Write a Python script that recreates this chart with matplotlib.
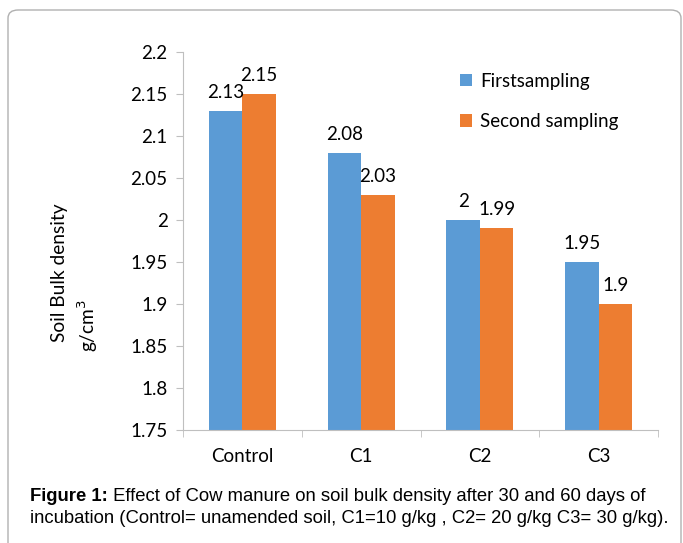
import numpy as np
import matplotlib.pyplot as plt
from matplotlib.patches import FancyBboxPatch

# data
categories = ['Control', 'C1', 'C2', 'C3']
first_sampling = [2.13, 2.08, 2.00, 1.95]
second_sampling = [2.15, 2.03, 1.99, 1.90]
first_labels = ['2.13', '2.08', '2', '1.95']
second_labels = ['2.15', '2.03', '1.99', '1.9']
y_ticks = [1.75, 1.8, 1.85, 1.9, 1.95, 2.0, 2.05, 2.1, 2.15, 2.2]
y_tick_labels = ['1.75', '1.8', '1.85', '1.9', '1.95', '2', '2.05', '2.1', '2.15', '2.2']

blue = '#5B9BD5'
orange = '#ED7D31'
axis_gray = '#BFBFBF'
font = 'Lato'
fs = 13.5

fig = plt.figure(figsize=(6.83, 5.43), dpi=100)

# rounded frame around the figure (bottom runs off the page)
frame = FancyBboxPatch((8 / 683, -0.2), 673 / 683, 1.2 - 10 / 543,
                       boxstyle='round,pad=0,rounding_size=0.015',
                       transform=fig.transFigure, fill=False,
                       edgecolor='#B0B0B0', linewidth=1.0)
fig.patches.append(frame)

ax = fig.add_axes([183 / 683, 1 - 430 / 543, 475 / 683, 378 / 543])

x = np.arange(len(categories))
w = 0.283
ax.bar(x - w / 2, [v - 1.75 for v in first_sampling], w, bottom=1.75,
       color=blue, label='Firstsampling')
ax.bar(x + w / 2, [v - 1.75 for v in second_sampling], w, bottom=1.75,
       color=orange, label='Second sampling')

for i in range(len(categories)):
    ax.text(x[i] - w / 2, first_sampling[i] + 0.012, first_labels[i],
            ha='center', va='bottom', fontsize=fs, family=font)
    ax.text(x[i] + w / 2, second_sampling[i] + 0.012, second_labels[i],
            ha='center', va='bottom', fontsize=fs, family=font)

ax.set_xlim(-0.5, len(categories) - 0.5)
ax.set_ylim(1.75, 2.2)
ax.set_yticks(y_ticks)
ax.set_yticklabels(y_tick_labels, family=font, fontsize=fs)
ax.set_xticks(x)
ax.set_xticklabels(categories, family=font, fontsize=fs)
ax.set_xticks(np.arange(len(categories) + 1) - 0.5, minor=True)
ax.tick_params(axis='x', which='major', length=0, pad=13)
ax.tick_params(axis='x', which='minor', length=5, color=axis_gray)
ax.tick_params(axis='y', length=5, color=axis_gray, pad=6)

for s in ['top', 'right']:
    ax.spines[s].set_visible(False)
for s in ['left', 'bottom']:
    ax.spines[s].set_color(axis_gray)

# y axis title, two lines
fig.text(60 / 683, 1 - 273 / 543, 'Soil Bulk density', rotation=90,
         ha='center', va='center', fontsize=13.8, family=font)
fig.text(88 / 683, 1 - 325 / 543, 'g/cm$^3$', rotation=90,
         ha='center', va='center', fontsize=13.8, family=font)

ax.legend(loc='upper left', bbox_to_anchor=(0.548, 0.99), frameon=False,
          prop={'family': font, 'size': fs}, handlelength=0.65,
          handleheight=0.65, handletextpad=0.4, labelspacing=1.25)

# caption
cap_fs = 13.3
cap = fig.text(30 / 683, 1 - 505 / 543, 'Figure 1:', fontsize=cap_fs,
               fontweight='bold', family='Liberation Sans', va='bottom')
fig.add_artist(plt.Annotation(
    ' Effect of Cow manure on soil bulk density after 30 and 60 days of',
    xy=(1, 0), xycoords=cap, va='bottom', ha='left',
    fontsize=cap_fs, family='Liberation Sans'))
fig.text(30 / 683, 1 - 527 / 543,
         'incubation (Control= unamended soil, C1=10 g/kg , C2= 20 g/kg C3= 30 g/kg).',
         fontsize=cap_fs, family='Liberation Sans', va='bottom')

fig.savefig('out.png', dpi=100)
